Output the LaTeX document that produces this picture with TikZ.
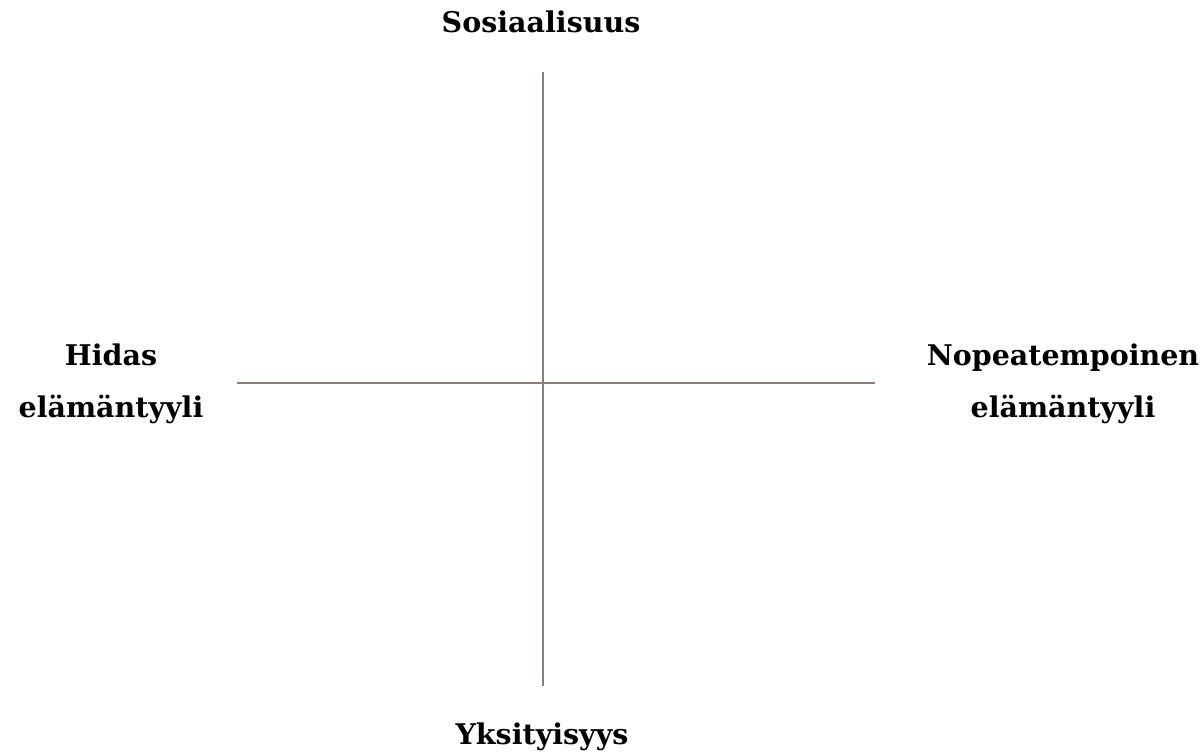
\documentclass[tikz,border=0pt]{standalone}
\usepackage{fontspec}
\setmainfont{DejaVu Serif}
\definecolor{axisc}{HTML}{8A8079}
\begin{document}
\begin{tikzpicture}[x=1pt,y=-1pt,
  axis/.style={draw=axisc,line width=1.5pt},
  lbl/.style={font=\bfseries\fontsize{28.5}{52}\selectfont,align=center,inner sep=0pt}]
\useasboundingbox (0,0) rectangle (1203,752);
\coordinate (vt) at (543,72);
\coordinate (vb) at (543,686);
\coordinate (hl) at (237,383);
\coordinate (hr) at (875,383);
\draw[axis] (vt) -- (vb);
\draw[axis] (hl) -- (hr);
\node[lbl,anchor=base] (top) at (541,33) {Sosiaalisuus};
\node[lbl,anchor=base] (bot) at (542,744) {Yksityisyys};
\node[lbl] (left) at (111,384) {Hidas\\elämäntyyli};
\node[lbl] (right) at (1063,384) {Nopeatempoinen\\elämäntyyli};
\end{tikzpicture}
\end{document}
